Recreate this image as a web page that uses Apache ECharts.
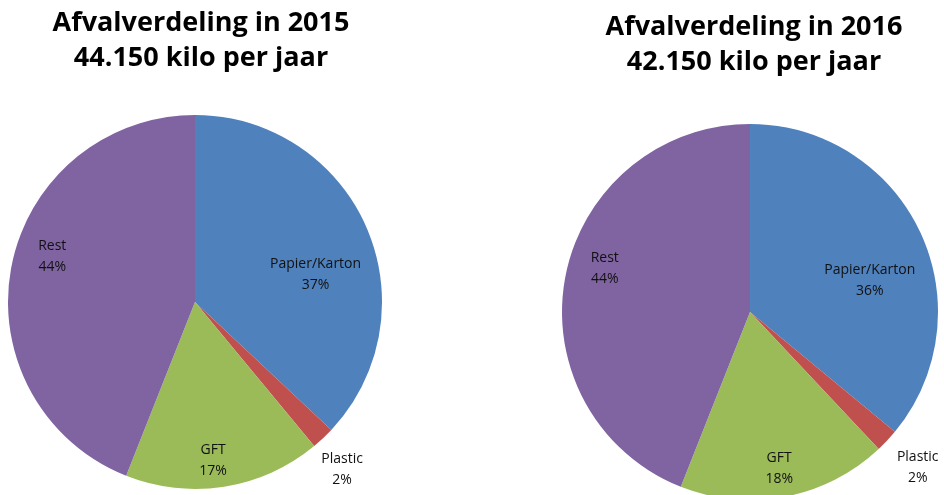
<!DOCTYPE html>
<html>
<head>
<meta charset="utf-8">
<script src="https://cdn.jsdelivr.net/npm/echarts@6/dist/echarts.min.js"></script>
<style>html,body{margin:0;padding:0;background:#fff;}#c{width:944px;height:495px;}</style>
</head>
<body>
<div id="c"></div>
<script>
// Data
const categories = ['Papier/Karton', 'Plastic', 'GFT', 'Rest'];
const values2015 = [37, 2, 17, 44];
const values2016 = [36, 2, 18, 44];
const titles = ['Afvalverdeling in 2015\n44.150 kilo per jaar', 'Afvalverdeling in 2016\n42.150 kilo per jaar'];

// Styles
const colors = ['#4F81BD', '#C0504D', '#9BBB59', '#8064A2'];
const labelOffsets2015 = [[32, 11], [81, 97], [3, 63], [-48, -27]];
const labelOffsets2016 = [[32, 10], [97, 89], [11, 61], [-50, -25]];

function buildData(vals, offsets) {
  return categories.map((name, i) => ({
    name: name,
    value: vals[i],
    itemStyle: { color: colors[i] },
    label: { offset: offsets[i] }
  }));
}

const labelStyle = {
  show: true,
  position: 'inside',
  formatter: '{b}\n{c}%',
  fontFamily: 'Open Sans',
  fontSize: 14,
  lineHeight: 21,
  color: '#111',
  align: 'center'
};

const titleStyle = {
  fontFamily: 'Open Sans',
  fontWeight: 'bold',
  fontSize: 27,
  lineHeight: 35,
  color: '#000'
};

const chart = echarts.init(document.getElementById('c'), null, { renderer: 'canvas' });
chart.setOption({
  animation: false,
  backgroundColor: '#fff',
  title: [
    { text: titles[0], left: 196, top: 1, textAlign: 'center', textStyle: Object.assign({}, titleStyle, {align: 'center'}) },
    { text: titles[1], left: 749, top: 5, textAlign: 'center', textStyle: Object.assign({}, titleStyle, {align: 'center'}) }
  ],
  series: [
    {
      type: 'pie',
      center: [195, 302],
      radius: 187,
      startAngle: 90,
      clockwise: true,
      silent: true,
      label: labelStyle,
      labelLine: { show: false },
      itemStyle: { borderWidth: 0 },
      data: buildData(values2015, labelOffsets2015)
    },
    {
      type: 'pie',
      center: [750, 312],
      radius: 188,
      startAngle: 90,
      clockwise: true,
      silent: true,
      label: labelStyle,
      labelLine: { show: false },
      itemStyle: { borderWidth: 0 },
      data: buildData(values2016, labelOffsets2016)
    }
  ]
});
</script>
</body>
</html>
